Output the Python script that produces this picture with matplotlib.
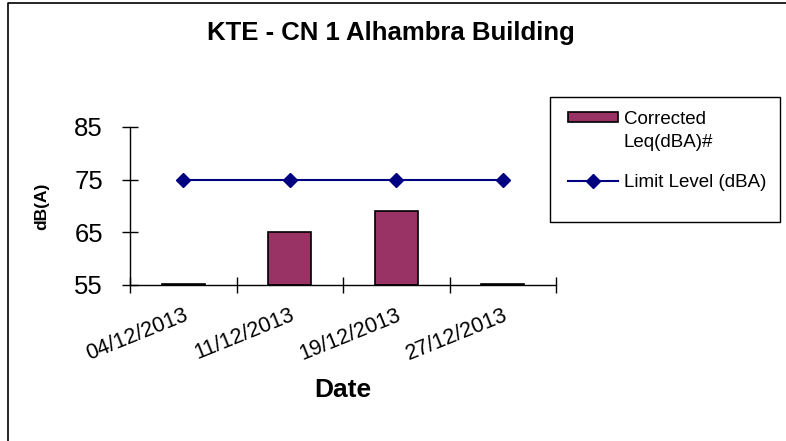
import matplotlib.pyplot as plt
from matplotlib.lines import Line2D
from matplotlib.patches import Rectangle
from matplotlib.legend_handler import HandlerPatch

plt.rcParams['font.family'] = ['Liberation Sans', 'DejaVu Sans']

# Data
dates = ["04/12/2013", "11/12/2013", "19/12/2013", "27/12/2013"]
corrected_leq = [55.25, 65.0, 69.0, 55.25]
limit_level = [75, 75, 75, 75]
y_ticks = [55, 65, 75, 85]

bar_color = "#993366"
line_color = "#000080"

fig = plt.figure(figsize=(7.86, 4.41), dpi=100)
ax = fig.add_axes([130/786, 1-285/441, 426/786, 158/441])

x = list(range(len(dates)))
bars = ax.bar(x, [v - 55 for v in corrected_leq], bottom=55, width=0.4,
              color=bar_color, edgecolor="black", linewidth=1.2, zorder=2,
              label="Corrected\nLeq(dBA)#")
line, = ax.plot(x, limit_level, color=line_color, linewidth=1.5, marker="D",
                markersize=7, zorder=3, label="Limit Level (dBA)")

ax.set_xlim(-0.5, 3.5)
ax.set_ylim(55, 85)
ax.set_yticks(y_ticks)
ax.tick_params(axis="y", direction="inout", length=11, width=1,
               labelsize=18.5, pad=14)
ax.set_xticks(x)
ax.set_xticklabels(dates, rotation=22, ha="right", va="top",
                   rotation_mode="anchor", fontsize=15.5)
ax.tick_params(axis="x", which="major", length=0, pad=14)
ax.set_xticks([-0.5, 0.5, 1.5, 2.5, 3.5], minor=True)
ax.tick_params(axis="x", which="minor", direction="inout", length=11,
               width=1)

for s in ["top", "right"]:
    ax.spines[s].set_visible(False)
ax.spines["left"].set_linewidth(1)
ax.spines["bottom"].set_linewidth(1)

ax.set_ylabel("dB(A)", fontsize=12.5, fontweight="bold", labelpad=18)
ax.set_xlabel("Date", fontsize=19, fontweight="bold", labelpad=10)

fig.text(0.497, 1-33/441, "KTE - CN 1 Alhambra Building", ha="center",
         va="center", fontsize=18.5, fontweight="bold")


# bar swatch sits next to the first line of its two-line label
def top_swatch(legend, orig_handle, xdescent, ydescent, width, height, fontsize):
    return Rectangle((-xdescent, -ydescent + 0.75 * fontsize), width, height)


bar_handle = bars.patches[0]

# legend box
fig.patches.append(Rectangle((550/786, 1-222/441), 230/786, 125/441,
                             transform=fig.transFigure, facecolor="white",
                             edgecolor="black", linewidth=1))
leg = fig.legend([bar_handle, line], ["Corrected\nLeq(dBA)#", "Limit Level (dBA)"],
                 loc="upper left", bbox_to_anchor=(560/786, 1-104/441),
                 frameon=False, fontsize=13.5, handlelength=2.7, handleheight=0.4,
                 labelspacing=1.2, handletextpad=0.3, borderaxespad=0,
                 handler_map={bar_handle: HandlerPatch(patch_func=top_swatch)})
for t in leg.get_texts():
    t.set_linespacing(1.45)

# outer border (top and left)
fig.lines.append(Line2D([8/786, 8/786, 1], [0, 1-3/441, 1-3/441],
                        transform=fig.transFigure, color="black",
                        linewidth=1.2))

fig.savefig("out.png", dpi=100)
